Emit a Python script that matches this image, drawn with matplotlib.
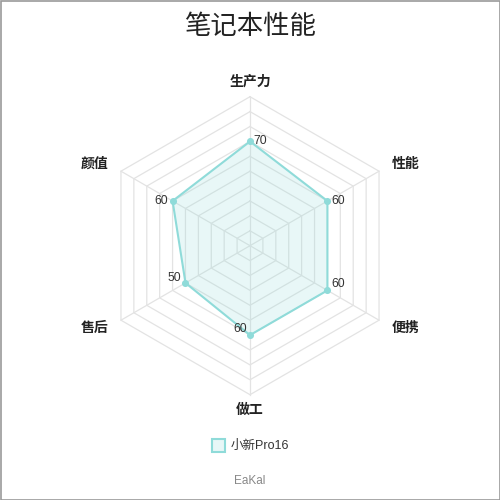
import numpy as np
import matplotlib
matplotlib.use("Agg")
import matplotlib.pyplot as plt
from matplotlib.patches import Rectangle, Polygon

plt.rcParams['font.family'] = ['Liberation Sans', 'Noto Sans CJK SC', 'DejaVu Sans']

title = "笔记本性能"
categories = ["生产力", "性能", "便携", "做工", "售后", "颜值"]
values = [70, 60, 60, 60, 50, 60]
series_name = "小新Pro16"
max_value = 100
ring_step = 10
footer = "EaKal"

line_color = "#8fdbd9"
fill_color = "#8fdbd9"
grid_color = "#e3e3e3"

fig = plt.figure(figsize=(5, 5), dpi=100)
ax = fig.add_axes([0, 0, 1, 1])
ax.set_xlim(0, 500)
ax.set_ylim(500, 0)
ax.axis('off')

cx, cy, R = 250, 245.7, 149
n = len(categories)
angles = np.pi / 2 - np.arange(n) * 2 * np.pi / n

def pt(val, ang):
    r = val / max_value * R
    return cx + r * np.cos(ang), cy - r * np.sin(ang)

# grid rings
for lv in range(ring_step, max_value + 1, ring_step):
    xs, ys = zip(*[pt(lv, a) for a in angles])
    ax.plot(list(xs) + [xs[0]], list(ys) + [ys[0]], color=grid_color, lw=0.9, zorder=1)
# spokes
for a in angles:
    x1, y1 = pt(max_value, a)
    ax.plot([cx, x1], [cy, y1], color=grid_color, lw=0.9, zorder=1)

# data
pts = [pt(v, a) for v, a in zip(values, angles)]
ax.add_patch(Polygon(pts, closed=True, facecolor=fill_color, alpha=0.2, edgecolor='none', zorder=2))
xs, ys = zip(*pts)
ax.plot(list(xs) + [xs[0]], list(ys) + [ys[0]], color=line_color, lw=1.5, zorder=3)
ax.scatter(xs, ys, s=26, color=line_color, zorder=4, linewidths=0)

# value labels
offsets = [(3, 0, 'left'), (4, 0, 'left'), (4, -6, 'left'), (-3, -6, 'right'), (-4, -5, 'right'), (-5, 0, 'right')]
for (x, y), v, (dx, dy, ha) in zip(pts, values, offsets):
    ax.text(x + dx, y + dy, str(v), fontsize=8.8, color="#333333", ha=ha, va='center', zorder=5)

# category labels
lab_r = 1.1
for c, a in zip(categories, angles):
    x, y = pt(max_value * lab_r, a)
    ca = np.cos(a)
    if abs(ca) < 0.1:
        ha = 'center'
    elif ca > 0:
        ha = 'left'
    else:
        ha = 'right'
    ax.text(x, y, c, fontsize=10, fontweight='bold', color="#222222",
            ha=ha, va='center')

# title
ax.text(250, 27, title, fontsize=19, color="#222222", ha='center', va='center')

# legend
ax.add_patch(Rectangle((212, 439), 13, 13, facecolor=fill_color, alpha=0.2, edgecolor='none', zorder=2))
ax.add_patch(Rectangle((212, 439), 13, 13, facecolor='none', edgecolor=line_color, lw=1.5, zorder=3))
ax.text(231, 445.5, series_name, fontsize=9, color="#333333", ha='left', va='center')

# footer
ax.text(250, 481, footer, fontsize=8.5, color="#888888", ha='center', va='center')

# border
ax.add_patch(Rectangle((0.5, 0.5), 499, 499, facecolor='none', edgecolor="#999999", lw=1.2))

fig.savefig("out.png", dpi=100)
